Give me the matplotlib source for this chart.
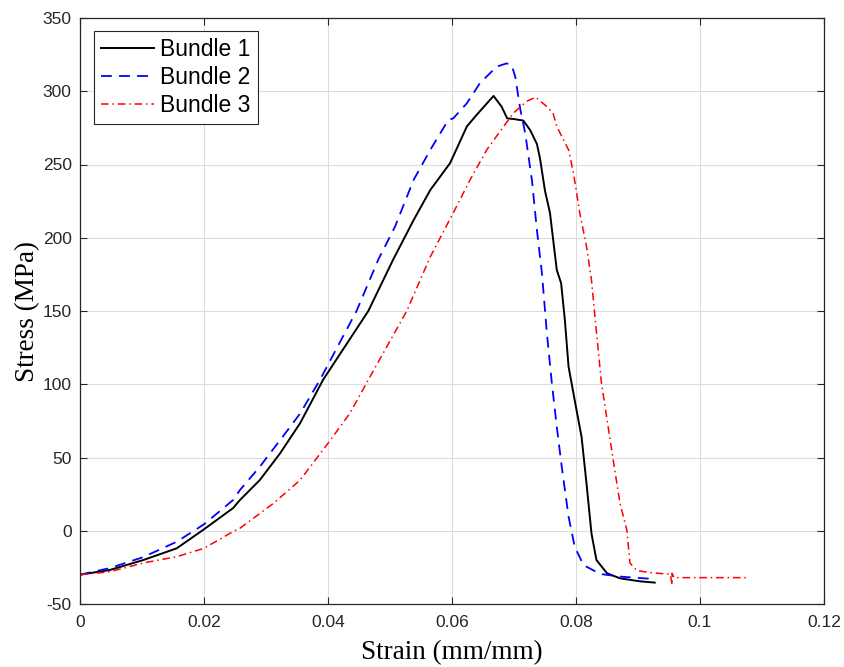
import matplotlib
matplotlib.use("Agg")
import matplotlib.pyplot as plt

plt.rcParams["axes.unicode_minus"] = False

# Bundle 1 (black, solid)
strain1 = [0.0, 0.0048, 0.0102, 0.0156, 0.0200, 0.0247, 0.0258, 0.0290, 0.0323, 0.0355,
           0.0392, 0.0465, 0.0505, 0.0538, 0.0565, 0.0597, 0.0624, 0.0640, 0.0667, 0.0680,
           0.0689, 0.0700, 0.0715, 0.0726, 0.0737, 0.0742, 0.0750, 0.0758, 0.0769, 0.0776,
           0.0782, 0.0788, 0.0801, 0.0809, 0.0817, 0.0825, 0.0833, 0.0850, 0.0871, 0.0903,
           0.0927]
stress1 = [-30, -26.8, -20, -12, 1, 15.5, 21, 34.6, 53, 73.4,
           103, 150, 185, 212, 232.6, 251, 276, 284, 296.8, 289.5,
           281.5, 281, 280, 273.5, 264, 254, 232, 217, 178, 169,
           144, 112, 82, 64, 32, -2, -20, -29, -32.5, -34.5,
           -35.4]

# Bundle 2 (blue, dashed)
strain2 = [0.0, 0.0048, 0.0102, 0.0156, 0.0200, 0.0247, 0.0258, 0.0290, 0.0323, 0.0355,
           0.0387, 0.0446, 0.0481, 0.0508, 0.0538, 0.0565, 0.0594, 0.0602, 0.0624, 0.0645,
           0.0672, 0.0688, 0.0696, 0.0702, 0.0710, 0.0718, 0.0729, 0.0737, 0.0745, 0.0753,
           0.0761, 0.0769, 0.0777, 0.0788, 0.0798, 0.0812, 0.0839, 0.0871, 0.0927]
stress2 = [-30, -25.5, -18, -7.5, 4.4, 21, 27.8, 43.7, 62, 80,
           103, 150, 185, 207.5, 239.4, 260, 280.4, 281.5, 291.8, 305.5,
           316.8, 319, 318, 310, 288, 271.5, 239, 205, 176, 135,
           101, 71, 43.7, 9.6, -11, -23.4, -29.5, -31.3, -33]

# Bundle 3 (red, dash-dot)
strain3 = [0.0, 0.0048, 0.0102, 0.0156, 0.0200, 0.0247, 0.0258, 0.0312, 0.0355, 0.0400,
           0.0435, 0.0465, 0.0527, 0.0565, 0.0602, 0.0629, 0.0656, 0.0683, 0.0699, 0.0720,
           0.0735, 0.0753, 0.0763, 0.0769, 0.0788, 0.0796, 0.0806, 0.0817, 0.0825, 0.0830,
           0.0841, 0.0860, 0.0871, 0.0882, 0.0887, 0.0898, 0.0920, 0.0952, 0.0955, 0.0955,
           0.0958, 0.1080]
stress3 = [-30, -28, -22, -17.7, -12, -0.5, 1.7, 18.7, 34.6, 59.7,
           80, 103, 150, 187, 217, 239.4, 260, 275.8, 285, 293,
           296, 289.5, 285, 276, 260, 244, 217, 194, 171, 148.6,
           101, 48.3, 18.7, 0.5, -22, -27.2, -28.6, -29.7, -37, -29,
           -32, -32]

xticks = [0, 0.02, 0.04, 0.06, 0.08, 0.1, 0.12]
xticklabels = ["0", "0.02", "0.04", "0.06", "0.08", "0.1", "0.12"]
yticks = [-50, 0, 50, 100, 150, 200, 250, 300, 350]
series_names = ["Bundle 1", "Bundle 2", "Bundle 3"]

fig = plt.figure(figsize=(8.45, 6.67), dpi=100)
ax = fig.add_axes([80/845, 1-604/667, (824-80)/845, (604-18)/667])

ax.plot(strain1, stress1, color="black", lw=1.4, ls="-", label=series_names[0])
ax.plot(strain2, stress2, color="#0000ff", lw=1.3, ls=(0, (6, 4)), label=series_names[1])
ax.plot(strain3, stress3, color="#ff0000", lw=1.1, ls=(0, (5, 2.5, 1, 2.5)), label=series_names[2])

ax.set_xlim(0, 0.12)
ax.set_ylim(-50, 350)
ax.set_xticks(xticks)
ax.set_xticklabels(xticklabels)
ax.set_yticks(yticks)

tick_font = "Liberation Sans"
for lab in ax.get_xticklabels() + ax.get_yticklabels():
    lab.set_fontfamily(tick_font)
    lab.set_fontsize(12.5)
    lab.set_color("#262626")

ax.tick_params(direction="in", length=5, width=0.8, color="#262626",
               top=True, right=True, pad=6)
ax.tick_params(axis="x", pad=8)
for s in ax.spines.values():
    s.set_color("#262626")
    s.set_linewidth(0.9)

ax.grid(True, color="#dcdcdc", lw=0.8)
ax.set_axisbelow(True)

ax.set_xlabel("Strain (mm/mm)", fontfamily="Liberation Serif", fontsize=19.5, labelpad=7)
ax.set_ylabel("Stress (MPa)", fontfamily="Liberation Serif", fontsize=19.5, labelpad=2)

leg = ax.legend(loc="upper left", bbox_to_anchor=(14/744, 1-(31-18)/586),
                prop={"family": "Liberation Sans", "size": 16.5},
                fancybox=False, framealpha=1, edgecolor="#262626",
                handlelength=2.3, handletextpad=0.3, borderpad=0.3,
                labelspacing=0.23, borderaxespad=0)
leg.get_frame().set_linewidth(0.8)

fig.savefig("out.png", dpi=100)
